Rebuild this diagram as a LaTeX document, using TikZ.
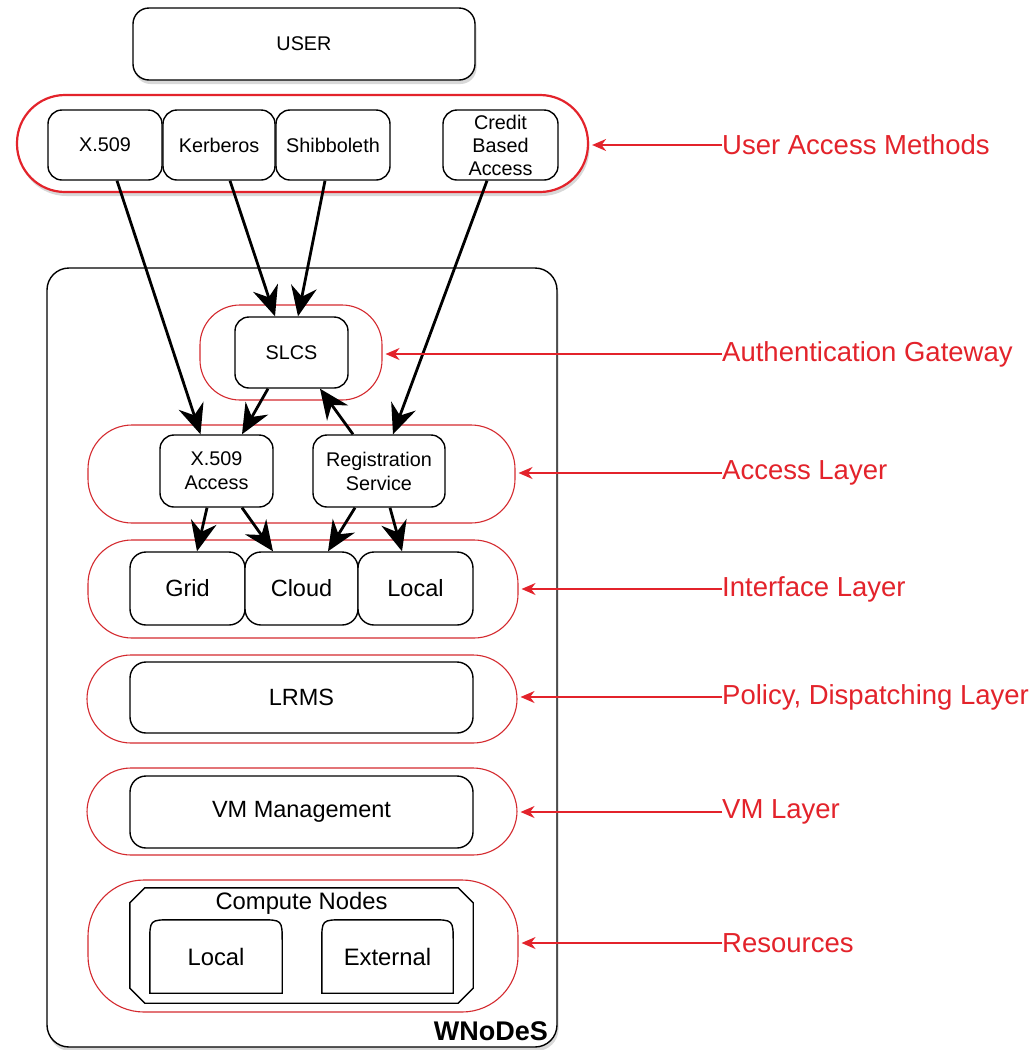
\documentclass[tikz,border=0pt]{standalone}
\usepackage{fontspec}
\setmainfont{Liberation Sans}
\usetikzlibrary{arrows.meta,shadows,calc}
\definecolor{lred}{HTML}{E3232B}
\definecolor{sred}{HTML}{D42A2F}
\begin{document}
\begin{tikzpicture}[x=1pt,y=-1pt,
  box/.style={draw=black, line width=1.4pt, rounded corners=14pt, fill=white, align=center, inner sep=0pt, font=\fontsize{19.8}{24}\selectfont},
  bigbox/.style={box, rounded corners=16pt, font=\fontsize{23.5}{27}\selectfont},
  plain/.style={inner sep=0pt, align=center},
  layer/.style={draw=sred, line width=1.1pt, rounded corners=44pt},
  lbl/.style={text=lred, font=\fontsize{27.5}{32}\selectfont, anchor=west, inner sep=0pt},
  flow/.style={line width=2.8pt, arrows={-Stealth[length=30pt,width=26pt,inset=10pt]}},
  point/.style={draw=lred, line width=1.4pt, arrows={-Stealth[length=14pt,width=12pt,inset=4.5pt]}},
  shade/.style={drop shadow={shadow xshift=1.5pt, shadow yshift=-4pt, opacity=0.3, fill=gray}}
]
\useasboundingbox (0,0) rectangle (1034,1050);
\fill[white] (0,0) rectangle (1034,1050);

% WNoDeS container
\node[draw=black, line width=1.4pt, rounded corners=22pt, fill=white, shade,
      minimum width=510pt, minimum height=779pt] (wn) at (302,657.5) {};
\node[font=\bfseries\fontsize{27}{30}\selectfont, anchor=base east, inner sep=0pt] (wnt) at (548,1040) {WNoDeS};

% USER
\node[box, shade, rounded corners=16pt, minimum width=342pt, minimum height=72pt] (user) at (304,44) {USER};

% User access methods layer
\node[draw=lred, line width=2.2pt, rounded corners=48pt, fill=white, shade,
      minimum width=571pt, minimum height=97pt] (uam) at (302.5,143.5) {};
\node[box, minimum width=114pt, minimum height=70pt] (ux) at (105,145) {X.509};
\node[box, minimum width=112pt, minimum height=70pt] (kb) at (219,145) {Kerberos};
\node[box, minimum width=114pt, minimum height=70pt] (sh) at (333,145) {Shibboleth};
\node[box, minimum width=115pt, minimum height=70pt, font=\fontsize{19.8}{23}\selectfont] (cr) at (500.5,145) {Credit\\Based\\Access};

% Authentication gateway
\node[layer, rounded corners=40pt, minimum width=182pt, minimum height=95pt] (ag) at (291,352.5) {};
\node[box, minimum width=113pt, minimum height=71pt] (slcs) at (291.5,352.5) {SLCS};

% Access layer
\node[layer, minimum width=427pt, minimum height=98pt] (al) at (301.5,474) {};
\node[box, minimum width=113pt, minimum height=72pt] (xacc) at (216.5,471) {X.509\\Access};
\node[box, minimum width=132pt, minimum height=72pt] (reg) at (379,471) {Registration\\Service};

% Interface layer
\node[layer, minimum width=430pt, minimum height=98pt] (il) at (303,589) {};
\node[bigbox, minimum width=115pt, minimum height=73pt] (grid) at (187.5,588.5) {Grid};
\node[bigbox, minimum width=113pt, minimum height=73pt] (cloud) at (301.5,588.5) {Cloud};
\node[bigbox, minimum width=115pt, minimum height=73pt] (local) at (415.5,588.5) {Local};

% Policy, dispatching layer
\node[layer, minimum width=430pt, minimum height=88pt] (pl) at (302,699) {};
\node[bigbox, minimum width=343pt, minimum height=71pt] (lrms) at (301.5,697.5) {LRMS};

% VM layer
\node[layer, minimum width=430pt, minimum height=87pt] (vl) at (302,811.5) {};
\node[bigbox, minimum width=343pt, minimum height=72pt] (vmm) at (301.5,812) {VM Management};

% Resources
\node[layer, rounded corners=56pt, minimum width=430pt, minimum height=132pt] (rl) at (303,946) {};
\node[plain, minimum width=343pt, minimum height=115pt] (cn) at (301.5,945.5) {};
\draw[line width=1.4pt]
  ($(cn.north west)+(15,0)$) -- ($(cn.north east)+(-15,0)$) -- ($(cn.north east)+(0,15)$)
  -- ($(cn.south east)+(0,-15)$) -- ($(cn.south east)+(-15,0)$) -- ($(cn.south west)+(15,0)$)
  -- ($(cn.south west)+(0,-15)$) -- ($(cn.north west)+(0,15)$) -- cycle;
\node[plain, font=\fontsize{23.8}{27}\selectfont] (cnt) at (301.5,903) {Compute Nodes};
\node[plain, font=\fontsize{23.8}{27}\selectfont, minimum width=132pt, minimum height=73pt] (cloc) at (216,956.5) {Local};
\node[plain, font=\fontsize{23.8}{27}\selectfont, minimum width=131pt, minimum height=73pt] (cext) at (387.5,956.5) {External};
\foreach \n in {cloc,cext}{
  \draw[line width=1.4pt]
    (\n.south west) -- ($(\n.north west)+(0,22)$) .. controls (\n.north west) .. ($(\n.north west)+(22,0)$)
    -- ($(\n.north east)+(-22,0)$) .. controls (\n.north east) .. ($(\n.north east)+(0,22)$)
    -- (\n.south east) -- cycle;
}

% black flow arrows
\draw[flow] ([xshift=12pt]ux.south) -- ([xshift=-16pt]xacc.north);
\draw[flow] ([xshift=11pt]kb.south) -- ([xshift=-16.5pt]slcs.north);
\draw[flow] ([xshift=-8pt]sh.south) -- ([xshift=6.5pt]slcs.north);
\draw[flow] ([xshift=-13.5pt]cr.south) -- ([xshift=14pt]reg.north);
\draw[flow] ([xshift=-23.5pt]slcs.south) -- ([xshift=25.5pt]xacc.north);
\draw[flow] ([xshift=-26pt]reg.north) -- ([xshift=28.5pt]slcs.south);
\draw[flow] ([xshift=-9.5pt]xacc.south) -- ([xshift=9.5pt]grid.north);
\draw[flow] ([xshift=25.5pt]xacc.south) -- ([xshift=-28.5pt]cloud.north);
\draw[flow] ([xshift=-24pt]reg.south) -- ([xshift=26.5pt]cloud.north);
\draw[flow] ([xshift=11pt]reg.south) -- ([xshift=-13.5pt]local.north);

% red labels
\node[lbl] (t1) at (722,145) {User Access Methods};
\node[lbl] (t2) at (722,354) {Authentication Gateway};
\node[lbl] (t3) at (722,473) {Access Layer};
\node[lbl] (t4) at (722,589) {Interface Layer};
\node[lbl] (t5) at (722,697) {Policy, Dispatching Layer};
\node[lbl] (t6) at (722,812) {VM Layer};
\node[lbl] (t7) at (722,943) {Resources};
\draw[point] (t1.west) -- ([xshift=3pt]t1.west -| uam.east);
\draw[point] (t2.west) -- ([xshift=3pt]t2.west -| ag.east);
\draw[point] (t3.west) -- ([xshift=3pt]t3.west -| al.east);
\draw[point] (t4.west) -- ([xshift=3pt]t4.west -| il.east);
\draw[point] (t5.west) -- ([xshift=3pt]t5.west -| pl.east);
\draw[point] (t6.west) -- ([xshift=3pt]t6.west -| vl.east);
\draw[point] (t7.west) -- ([xshift=3pt]t7.west -| rl.east);
\end{tikzpicture}
\end{document}
